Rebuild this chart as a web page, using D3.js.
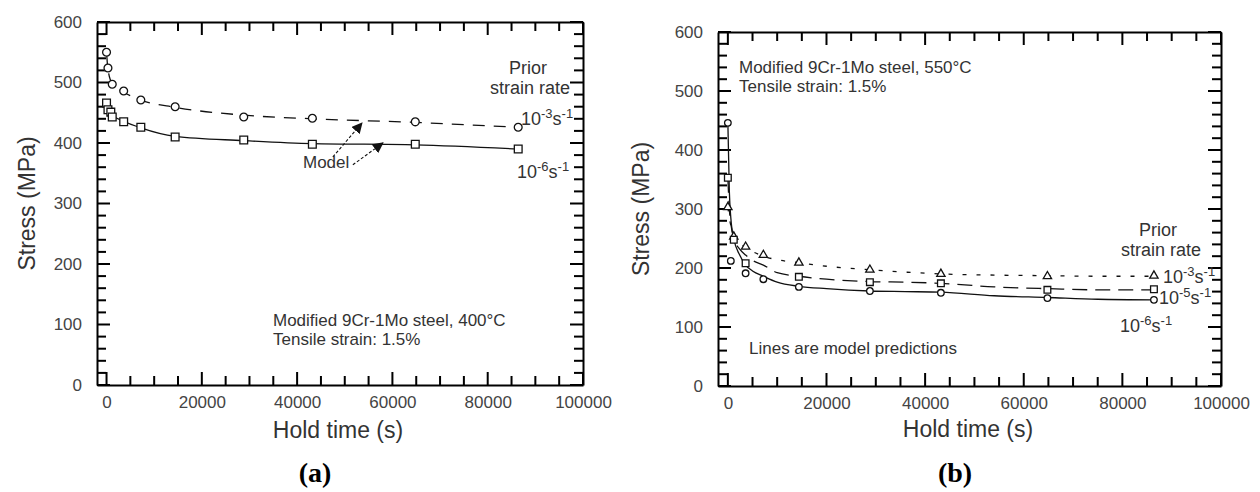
<!DOCTYPE html>
<html>
<head>
<meta charset="utf-8">
<script src="https://cdn.jsdelivr.net/npm/d3@7"></script>
<style>
  html, body { margin: 0; padding: 0; background: #fff; }
  svg text { font-family: "Liberation Sans", Arial, sans-serif; fill: #333; }
  .axis .domain { stroke: #000; stroke-width: 2; }
  .axis .tick text { font-size: 17px; fill: #444; }
</style>
</head>
<body>
<svg id="chart" width="1260" height="492"></svg>
<script>
// ---- panel (a): 400°C, measured points ----
const timeA_fast = [0, 300, 1200, 3600, 7200, 14400, 28800, 43200, 64800, 86400];
const stressA_fast = [550, 524, 497, 486, 471, 460, 443, 441, 435, 426];           // 10^-3 s^-1, circles
const timeA_slow = [0, 300, 900, 1200, 3600, 7200, 14400, 28800, 43200, 64800, 86400];
const stressA_slow = [466, 455, 451, 443, 435, 426, 410, 405, 398, 398, 390];      // 10^-6 s^-1, squares

// panel (a) model curves
const modelTimeA = [0, 300, 1200, 3600, 7200, 14400, 28800, 43200, 64800, 86400];
const modelA_fast = [550, 522, 498, 484, 471, 459, 446, 440, 434, 426];
const modelA_slow = [466, 455, 446, 436, 425, 411, 404, 399, 397, 390];

// ---- panel (b): 550°C, measured points ----
const timeB_e3 = [0, 1200, 3600, 7200, 14400, 28800, 43200, 64800, 86400];
const stressB_e3 = [303, 253, 236, 222, 209, 197, 190, 186, 187];                 // triangles
const timeB_e5 = [0, 1200, 3600, 14400, 28800, 43200, 64800, 86400];
const stressB_e5 = [353, 248, 208, 185, 176, 174, 163, 164];                      // squares
const timeB_e6 = [0, 600, 3600, 7200, 14400, 28800, 43200, 64800, 86400];
const stressB_e6 = [446, 212, 191, 181, 168, 161, 158, 149, 146];                 // circles

// panel (b) model curves
const modelTimeB = [0, 300, 600, 1200, 2400, 3600, 5000, 7200, 10000, 14400, 20000, 28800, 36000, 43200, 54000, 64800, 75000, 86400];
const modelB_e3 = [303, 285, 272, 256, 243, 235, 228, 220, 214, 209, 203, 197, 193, 190, 188, 187, 186, 186];
const modelB_e5 = [353, 300, 275, 250, 232, 222, 213, 205, 192, 186, 181, 177, 176, 174, 168, 165, 163, 163];
const modelB_e6 = [446, 330, 285, 250, 222, 205, 195, 186, 176, 169, 165, 161, 160, 159, 153, 150, 147, 146];

const xDomain = [-2000, 100000];
const yDomain = [0, 600];
const xMajor = d3.range(0, 100001, 20000);
const xMinor = d3.range(0, 100001, 5000).filter(v => v % 20000 !== 0);
const yMajor = d3.range(0, 601, 100);
const yMinor = d3.range(0, 601, 20).filter(v => v % 100 !== 0);

const svg = d3.select('#chart');

svg.append('defs').append('marker')
  .attr('id', 'arrow')
  .attr('viewBox', '0 0 10 10')
  .attr('refX', 9).attr('refY', 5)
  .attr('markerWidth', 11).attr('markerHeight', 11)
  .attr('markerUnits', 'userSpaceOnUse')
  .attr('orient', 'auto')
  .append('path')
  .attr('d', 'M0,0 L10,5 L0,10 Z')
  .attr('fill', '#111');

// inward tick marks on all four sides, drawn as rects so they stay solid
function innerTicks(g, x, y) {
  const [l, r] = x.range();
  const [b, t] = y.range();
  const xt = xMajor.map(v => [v, 13]).concat(xMinor.map(v => [v, 9]));
  const yt = yMajor.map(v => [v, 13]).concat(yMinor.map(v => [v, 9]));
  const tg = g.append('g').attr('fill', '#000');
  xt.forEach(([v, len]) => {
    tg.append('rect').attr('x', x(v) - 1).attr('y', b - len).attr('width', 2).attr('height', len);
    tg.append('rect').attr('x', x(v) - 1).attr('y', t).attr('width', 2).attr('height', len);
  });
  yt.forEach(([v, len]) => {
    tg.append('rect').attr('x', l).attr('y', y(v) - 1).attr('width', len).attr('height', 2);
    tg.append('rect').attr('x', r - len).attr('y', y(v) - 1).attr('width', len).attr('height', 2);
  });
}

function drawFrame(g, x, y, box) {
  const [l, r] = x.range();
  const [b, t] = y.range();
  g.append('g').attr('class', 'axis').attr('transform', `translate(0,${b})`)
    .call(d3.axisBottom(x).tickValues(xMajor).tickSize(0).tickPadding(11).tickFormat(d3.format('d')));
  g.append('g').attr('class', 'axis').attr('transform', `translate(0,${t})`)
    .call(d3.axisTop(x).tickValues([]).tickSize(0));
  g.append('g').attr('class', 'axis').attr('transform', `translate(${l},0)`)
    .call(d3.axisLeft(y).tickValues(yMajor).tickSize(0).tickPadding(15).tickFormat(d3.format('d')));
  g.append('g').attr('class', 'axis').attr('transform', `translate(${r},0)`)
    .call(d3.axisRight(y).tickValues([]).tickSize(0));
  innerTicks(g, x, y);

  g.append('text')
    .attr('x', box.titleX).attr('y', box.titleY)
    .attr('text-anchor', 'middle')
    .style('font-size', '23px')
    .text('Hold time (s)');
  g.append('text')
    .attr('transform', `translate(${box.stressX},${(t + b) / 2}) rotate(-90)`)
    .attr('text-anchor', 'middle')
    .attr('dy', '0.35em')
    .style('font-size', '23px')
    .text('Stress (MPa)');
}

function drawLine(g, x, y, times, vals, dash) {
  const line = d3.line()
    .x((d, i) => x(times[i]))
    .y(d => y(d))
    .curve(d3.curveMonotoneX);
  g.append('path')
    .attr('d', line(vals))
    .attr('fill', 'none')
    .attr('stroke', '#111')
    .attr('stroke-width', 1.3)
    .attr('stroke-dasharray', dash);
}

function drawMarks(g, x, y, times, vals, shape, size) {
  const sym = d3.symbol().type(shape).size(size);
  g.append('g').selectAll('path')
    .data(vals)
    .join('path')
    .attr('transform', (d, i) => `translate(${x(times[i])},${y(d)})`)
    .attr('d', sym)
    .attr('fill', '#fff')
    .attr('stroke', '#111')
    .attr('stroke-width', 1.3);
}

function label(g, px, py, txt, anchor, size) {
  g.append('text').attr('x', px).attr('y', py)
    .attr('text-anchor', anchor || 'start')
    .style('font-size', (size || 17) + 'px')
    .text(txt);
}

function rateLabel(g, px, py, exp) {
  const t = g.append('text').attr('x', px).attr('y', py).style('font-size', '18px');
  t.append('tspan').text('10');
  t.append('tspan').attr('dy', -7).style('font-size', '13px').text(exp);
  t.append('tspan').attr('dy', 7).text('s');
  t.append('tspan').attr('dy', -7).style('font-size', '13px').text('-1');
}

// ---------- panel (a) ----------
const xa = d3.scaleLinear().domain(xDomain).range([97, 583]);
const ya = d3.scaleLinear().domain(yDomain).range([385, 22]);
const ga = svg.append('g');
drawFrame(ga, xa, ya, { titleX: 338, titleY: 438, stressX: 27 });
drawLine(ga, xa, ya, modelTimeA, modelA_fast, '12,9');
drawLine(ga, xa, ya, modelTimeA, modelA_slow, null);
drawMarks(ga, xa, ya, timeA_fast, stressA_fast, d3.symbolCircle, 48);
drawMarks(ga, xa, ya, timeA_slow, stressA_slow, d3.symbolSquare, 60);

label(ga, 273, 326, 'Modified 9Cr-1Mo steel, 400°C');
label(ga, 273, 345, 'Tensile strain: 1.5%');
label(ga, 528, 74, 'Prior', 'middle', 18);
label(ga, 530, 94, 'strain rate', 'middle', 18);
rateLabel(ga, 521, 125, '-3');
rateLabel(ga, 517, 178, '-6');
label(ga, 303, 168, 'Model', 'start', 17);

// arrows from "Model"
[[[47500, 377], [53600, 433]], [[51700, 364], [58000, 400]]].forEach(([p0, p1]) => {
  ga.append('line')
    .attr('x1', xa(p0[0])).attr('y1', ya(p0[1]))
    .attr('x2', xa(p1[0])).attr('y2', ya(p1[1]))
    .attr('stroke', '#111').attr('stroke-width', 1.1)
    .attr('stroke-dasharray', '3,2')
    .attr('marker-end', 'url(#arrow)');
});

// ---------- panel (b) ----------
const xb = d3.scaleLinear().domain(xDomain).range([718, 1221]);
const yb = d3.scaleLinear().domain(yDomain).range([386, 32]);
const gb = svg.append('g');
drawFrame(gb, xb, yb, { titleX: 968, titleY: 437, stressX: 641 });
drawLine(gb, xb, yb, modelTimeB, modelB_e3, '4,10');
drawLine(gb, xb, yb, modelTimeB, modelB_e5, '15,8');
drawLine(gb, xb, yb, modelTimeB, modelB_e6, null);
drawMarks(gb, xb, yb, timeB_e3, stressB_e3, d3.symbolTriangle, 30);
drawMarks(gb, xb, yb, timeB_e5, stressB_e5, d3.symbolSquare, 45);
drawMarks(gb, xb, yb, timeB_e6, stressB_e6, d3.symbolCircle, 34);

label(gb, 739, 73, 'Modified 9Cr-1Mo steel, 550°C');
label(gb, 739, 92, 'Tensile strain: 1.5%');
label(gb, 749, 354, 'Lines are model predictions');
label(gb, 1158, 236, 'Prior', 'middle', 18);
label(gb, 1161, 256, 'strain rate', 'middle', 18);
rateLabel(gb, 1163, 283, '-3');
rateLabel(gb, 1159, 304, '-5');
rateLabel(gb, 1120, 332, '-6');

// captions
[['(a)', 315], ['(b)', 955]].forEach(([txt, cx]) => {
  svg.append('text')
    .attr('x', cx).attr('y', 482)
    .attr('text-anchor', 'middle')
    .style('font-family', '"Liberation Serif", "Times New Roman", serif')
    .style('font-weight', 'bold')
    .style('font-size', '28px')
    .style('fill', '#000')
    .text(txt);
});
</script>
</body>
</html>
